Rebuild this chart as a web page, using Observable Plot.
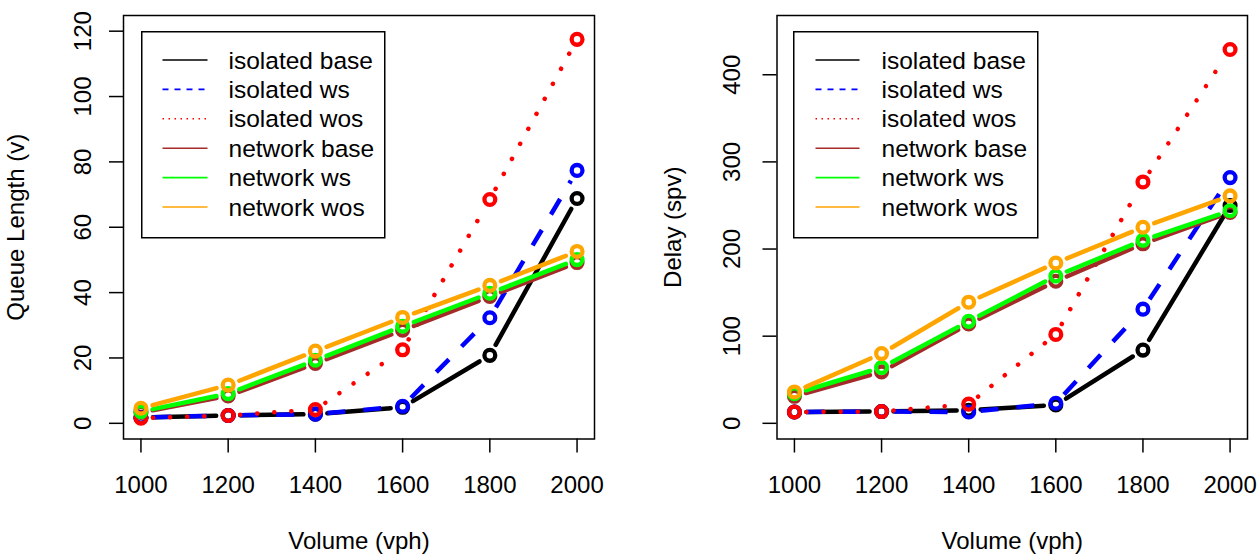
<!DOCTYPE html>
<html>
<head>
<meta charset="utf-8">
<script src="https://cdn.jsdelivr.net/npm/d3@7"></script>
<script src="https://cdn.jsdelivr.net/npm/@observablehq/plot@0.6"></script>
<style>
  body { margin: 0; background: #fff; font-family: "Liberation Sans", Arial, Helvetica, sans-serif; }
  #wrap { position: relative; width: 1258px; height: 554px; overflow: hidden; }
  .panel { position: absolute; top: 0; }
  .panel svg [aria-label$="tick"] { stroke-width: 1.5px; }
  .legend { position: absolute; }
</style>
</head>
<body>
<div id="wrap"></div>
<script>
// ---- data ----
const volumes = [1000, 1200, 1400, 1600, 1800, 2000];
const seriesNames = ["isolated base", "isolated ws", "isolated wos", "network base", "network ws", "network wos"];
const seriesColors = ["#000000", "#0000ff", "#ff0000", "#a52a2a", "#00ff00", "#ffa500"];
const seriesDash = [null, "18 18", "0.1 17", null, null, null];
const legendDash = [null, "6 6", "1.5 4.5", null, null, null];

const queueIsolatedBase = [1.8, 2.4, 2.8, 4.9, 20.8, 68.8];
const queueIsolatedWs   = [1.8, 2.4, 2.8, 5.2, 32.3, 77.4];
const queueIsolatedWos  = [1.6, 2.4, 4.2, 22.5, 68.5, 117.5];
const queueNetworkBase  = [3.3, 8.4, 18.3, 28.5, 38.8, 49.2];
const queueNetworkWs    = [3.6, 9.1, 19.3, 29.7, 39.8, 50.1];
const queueNetworkWos   = [4.6, 11.7, 22.1, 32.4, 42.2, 52.6];

const delayIsolatedBase = [13, 13.5, 15, 21, 84, 250];
const delayIsolatedWs   = [13, 13.5, 13, 23, 131, 282];
const delayIsolatedWos  = [13, 13.5, 22, 102, 277, 429];
const delayNetworkBase  = [31, 59, 114, 163, 206, 242];
const delayNetworkWs    = [34, 64, 117, 169, 210, 244];
const delayNetworkWos   = [36, 80, 139, 184, 225, 261];

const queueTicks = [0, 20, 40, 60, 80, 100, 120];
const delayTicks = [0, 100, 200, 300, 400];

const FONT = '"Liberation Sans", Arial, Helvetica, sans-serif';
const W = 629, H = 554, MT = 15, MB = 115.5;
const xDomain = [960, 2040];
const GAP = 12;

function segmentsFor(ys, xs, ysc) {
  const segs = [];
  for (let i = 0; i < volumes.length - 1; i++) {
    const px1 = xs(volumes[i]), py1 = ysc(ys[i]);
    const px2 = xs(volumes[i + 1]), py2 = ysc(ys[i + 1]);
    const dx = px2 - px1, dy = py2 - py1, len = Math.hypot(dx, dy);
    if (len <= 2 * GAP) continue;
    const ux = dx / len, uy = dy / len;
    segs.push({
      x1: xs.invert(px1 + ux * GAP), y1: ysc.invert(py1 + uy * GAP),
      x2: xs.invert(px2 - ux * GAP), y2: ysc.invert(py2 - uy * GAP)
    });
  }
  return segs;
}

function makePanel(cfg) {
  const xRange = [cfg.ml, W - cfg.mr];
  const yRange = [H - MB, MT];
  const xs = d3.scaleLinear(xDomain, xRange);
  const ysc = d3.scaleLinear(cfg.yDomain, yRange);
  const marks = [];
  cfg.series.forEach((vals, k) => {
    const segs = segmentsFor(vals, xs, ysc);
    const dash = seriesDash[k];
    marks.push(Plot.link(segs, {
      x1: "x1", y1: "y1", x2: "x2", y2: "y2",
      stroke: seriesColors[k], strokeWidth: 4.5,
      strokeDasharray: dash || undefined,
      strokeLinecap: dash === "18 18" ? "butt" : "round"
    }));
    marks.push(Plot.dot(volumes.map((v, i) => ({x: v, y: vals[i]})), {
      x: "x", y: "y", r: 5.4, stroke: seriesColors[k], strokeWidth: 4.3, fill: "none"
    }));
  });
  marks.push(Plot.frame({stroke: "#000", strokeWidth: 1.5}));
  marks.push(Plot.text(cfg.yTicks, {
    y: d => d, text: d => String(d), frameAnchor: "left", dx: cfg.tickDx,
    rotate: -90, textAnchor: "middle", lineAnchor: "middle", fontSize: 24, fill: "#000"
  }));
  marks.push(Plot.text([cfg.yTitle], {
    text: d => d, frameAnchor: "left", dx: cfg.titleDx, rotate: -90,
    textAnchor: "middle", lineAnchor: "middle", fontSize: 24, fill: "#000"
  }));
  marks.push(Plot.text(["Volume (vph)"], {
    text: d => d, frameAnchor: "bottom", dy: 102, textAnchor: "middle", lineAnchor: "middle",
    fontSize: 24, fill: "#000"
  }));
  const chart = Plot.plot({
    width: W, height: H,
    marginLeft: cfg.ml, marginRight: cfg.mr, marginTop: MT, marginBottom: MB,
    style: {fontSize: "24px", fontFamily: FONT, color: "#000", background: "transparent", overflow: "visible"},
    x: {domain: xDomain, range: xRange, ticks: volumes, tickSize: 14, tickPadding: 22.5,
        tickFormat: d3.format("d"), label: null},
    y: {domain: cfg.yDomain, range: yRange, ticks: cfg.yTicks, tickSize: 14,
        tickFormat: () => "", label: null},
    marks
  });
  const div = document.createElement("div");
  div.className = "panel";
  div.style.left = cfg.left + "px";
  div.appendChild(chart);
  document.getElementById("wrap").appendChild(div);
}

function makeLegend(left, top, w, h, sampleX1, sampleX2, textX) {
  const svg = d3.select("#wrap").append("svg")
    .attr("class", "legend")
    .style("left", left + "px").style("top", top + "px")
    .attr("width", w + 2).attr("height", h + 2);
  svg.append("rect").attr("x", 0.75).attr("y", 0.75).attr("width", w).attr("height", h)
    .attr("fill", "#fff").attr("stroke", "#000").attr("stroke-width", 1.5);
  seriesNames.forEach((name, k) => {
    const cy = 29 + k * 29.4;
    svg.append("line").attr("x1", sampleX1).attr("x2", sampleX2).attr("y1", cy).attr("y2", cy)
      .attr("stroke", seriesColors[k]).attr("stroke-width", 1.6)
      .attr("stroke-dasharray", legendDash[k]);
    svg.append("text").attr("x", textX).attr("y", cy).attr("dy", "0.35em")
      .attr("font-family", FONT).attr("font-size", 24.5).attr("fill", "#000").text(name);
  });
}

makePanel({
  left: 0, ml: 123, mr: 35, yDomain: [-4.8, 124.8], yTicks: queueTicks,
  series: [queueIsolatedBase, queueIsolatedWs, queueIsolatedWos, queueNetworkBase, queueNetworkWs, queueNetworkWos],
  tickDx: -40, titleDx: -107, yTitle: "Queue Length (v)"
});
makePanel({
  left: 629, ml: 147.5, mr: 11, yDomain: [-18, 468], yTicks: delayTicks,
  series: [delayIsolatedBase, delayIsolatedWs, delayIsolatedWos, delayNetworkBase, delayNetworkWs, delayNetworkWos],
  tickDx: -45, titleDx: -104, yTitle: "Delay (spv)"
});
makeLegend(140.5, 30.5, 243, 206, 21.5, 66.5, 87.5);
makeLegend(792.5, 30.5, 244, 206, 22.5, 66.5, 88.5);
</script>
</body>
</html>
